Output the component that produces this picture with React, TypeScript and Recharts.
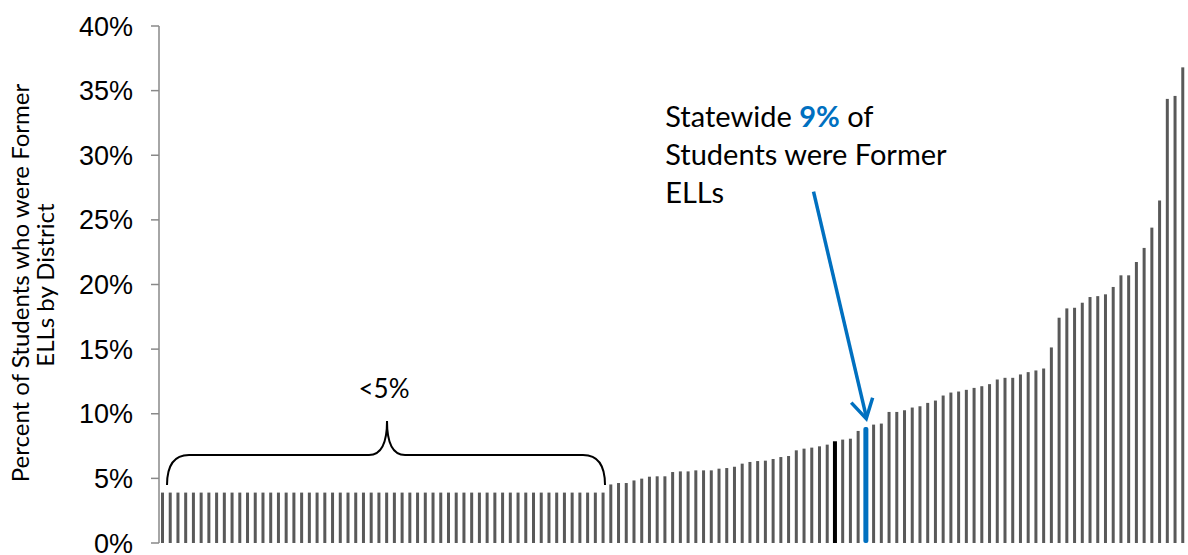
import React from 'react';
import { BarChart, Bar, XAxis, YAxis, ReferenceDot, Label } from 'recharts';

// Percent of students who were former ELLs, one value per district (sorted)
const districtShares: number[] = [
  3.9, 3.9, 3.9, 3.9, 3.9, 3.9, 3.9, 3.9, 3.9, 3.9,
  3.9, 3.9, 3.9, 3.9, 3.9, 3.9, 3.9, 3.9, 3.9, 3.9,
  3.9, 3.9, 3.9, 3.9, 3.9, 3.9, 3.9, 3.9, 3.9, 3.9,
  3.9, 3.9, 3.9, 3.9, 3.9, 3.9, 3.9, 3.9, 3.9, 3.9,
  3.9, 3.9, 3.9, 3.9, 3.9, 3.9, 3.9, 3.9, 3.9, 3.9,
  3.9, 3.9, 3.9, 3.9, 3.9, 3.9, 3.9, 3.9,
  4.53, 4.64, 4.64, 4.84, 4.98, 5.13, 5.16, 5.16, 5.49, 5.54,
  5.54, 5.62, 5.62, 5.62, 5.75, 5.8, 5.9, 6.14, 6.27, 6.34,
  6.37, 6.5, 6.65, 6.73, 7.17,
  7.3, 7.38, 7.48, 7.61, 7.87, 8.0, 8.07, 8.67, 8.98, 9.16,
  9.24, 10.14, 10.14, 10.27, 10.48, 10.58, 10.84,
  11.02, 11.41, 11.64, 11.72, 11.85, 12.0, 12.13, 12.29, 12.65, 12.78,
  12.78, 13.04, 13.22, 13.35, 13.5,
  15.13, 17.43, 18.15, 18.2, 18.59, 19.03, 19.1, 19.24, 19.81, 20.71,
  20.71, 21.74, 22.83, 24.4, 26.5, 34.36, 34.59, 36.8,
];

const districtNames: string[] = districtShares.map((_, i) => `D${i + 1}`);
const yTicks: number[] = [0, 5, 10, 15, 20, 25, 30, 35, 40];
const yTickLabels: string[] = ['0%', '5%', '10%', '15%', '20%', '25%', '30%', '35%', '40%'];
const statewideDistrict = 'D92';
const statewideIndex = 91;
const highlightIndex = 87;
const braceCenterDistrict = 'D30';
const statewideShare = 9;
const annotationLines: string[] = ['Statewide ', '9%', ' of', 'Students were Former', 'ELLs'];
const braceLabel = '<5%';
const yTitleLines: string[] = ['Percent of Students who were Former', 'ELLs by District'];

const data = districtNames.map((name, i) => ({ name, share: districtShares[i] }));

const GRAY = '#595959';
const BLUE = '#0070C0';
const CAL = 'Lato, "Open Sans", sans-serif';

function BarShape(props: any) {
  const { x, y, width, height, index } = props;
  if (index === statewideIndex) {
    return <rect x={x - 1} y={y} width={width + 2} height={height} rx={2} ry={2} fill={BLUE} />;
  }
  if (index === highlightIndex) {
    return <rect x={x - 0.5} y={y} width={width + 1} height={height} fill="#000000" />;
  }
  return <rect x={x} y={y} width={width} height={height} fill={GRAY} />;
}

function ArrowShape(props: any) {
  const { cx, cy } = props;
  const tipX = cx;
  const tipY = cy - 8;
  return (
    <g>
      <line x1={tipX - 52.7} y1={tipY - 227} x2={tipX} y2={tipY - 2} stroke={BLUE} strokeWidth={3.5} />
      <polyline
        points={`${tipX - 15},${tipY - 16} ${tipX},${tipY} ${tipX + 6.4},${tipY - 21}`}
        fill="none"
        stroke={BLUE}
        strokeWidth={3.5}
      />
      <text x={cx - 201} y={cy - 300} fontFamily={CAL} fontSize={29} fill="#000">
        <tspan>{annotationLines[0]}</tspan>
        <tspan fill={BLUE} fontWeight="bold">{annotationLines[1]}</tspan>
        <tspan>{annotationLines[2]}</tspan>
      </text>
      <text x={cx - 201} y={cy - 262} fontFamily={CAL} fontSize={29} fill="#000">{annotationLines[3]}</text>
      <text x={cx - 201} y={cy - 224} fontFamily={CAL} fontSize={29} fill="#000">{annotationLines[4]}</text>
    </g>
  );
}

function BraceShape(props: any) {
  const { cx, cy } = props;
  const l = cx - 220;
  const r = cx + 218;
  const d = `M${l},${cy + 30} Q${l},${cy} ${l + 22},${cy} L${cx - 18},${cy} Q${cx},${cy} ${cx},${cy - 34} Q${cx},${cy} ${cx + 18},${cy} L${r - 22},${cy} Q${r},${cy} ${r},${cy + 30}`;
  return (
    <g>
      <path d={d} fill="none" stroke="#000" strokeWidth={2} />
      <text x={cx - 3} y={cy - 57} textAnchor="middle" fontFamily={CAL} fontSize={26} fill="#000">{braceLabel}</text>
    </g>
  );
}

function YTitle() {
  return (
    <g>
      <text x={29} y={283} transform="rotate(-90, 29, 283)" textAnchor="middle" fontFamily={CAL} fontSize={24} fill="#000">
        {yTitleLines[0]}
      </text>
      <text x={54} y={285} transform="rotate(-90, 54, 285)" textAnchor="middle" fontFamily={CAL} fontSize={24} fill="#000">
        {yTitleLines[1]}
      </text>
    </g>
  );
}

export default function App() {
  return (
    <div style={{ position: 'absolute', left: 0, top: 0, width: 1188, height: 555, background: '#fff' }}>
      <BarChart width={1188} height={555} data={data} margin={{ top: 26, right: 1, bottom: 12, left: 0 }} barSize={3}>
        <XAxis dataKey="name" hide />
        <YAxis
          width={159}
          domain={[0, 40]}
          ticks={yTicks}
          interval={0}
          tickFormatter={(v: number) => yTickLabels[yTicks.indexOf(v)]}
          axisLine={{ stroke: '#898989', strokeWidth: 1.5 }}
          tickLine={{ stroke: '#898989', strokeWidth: 1.5 }}
          tickSize={8}
          tickMargin={18}
          tick={{ fill: '#000', fontSize: 27, fontFamily: '"Liberation Sans", Arial, sans-serif' }}
        >
          <Label content={() => <YTitle />} />
        </YAxis>
        <Bar dataKey="share" isAnimationActive={false} shape={BarShape} />
        <ReferenceDot x={statewideDistrict} y={statewideShare} shape={ArrowShape} ifOverflow="visible" />
        <ReferenceDot x={braceCenterDistrict} y={6.8} shape={BraceShape} ifOverflow="visible" />
      </BarChart>
    </div>
  );
}
